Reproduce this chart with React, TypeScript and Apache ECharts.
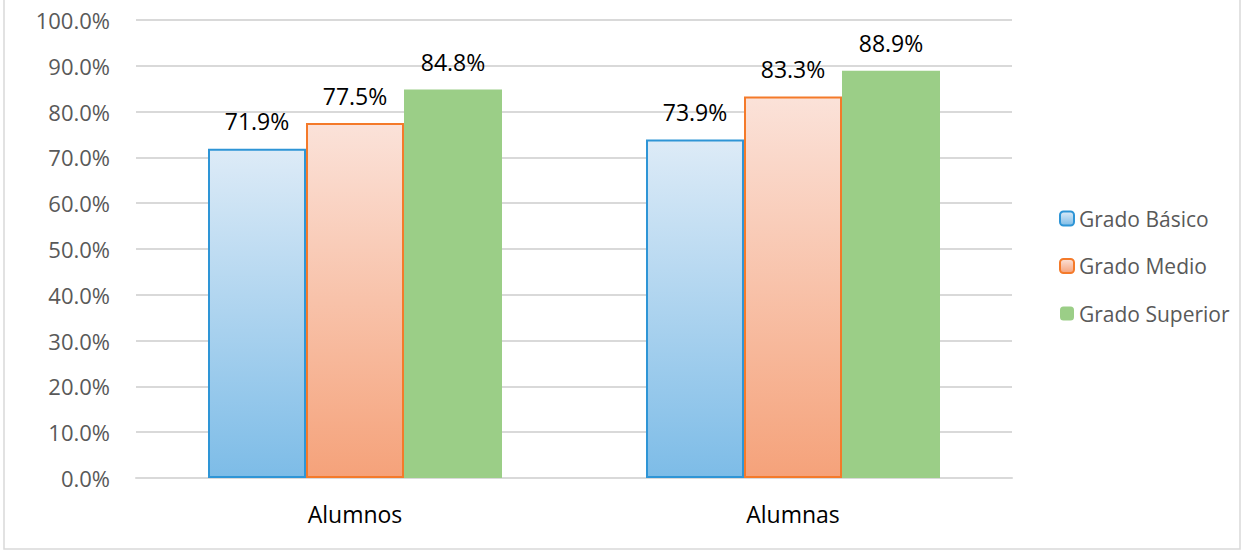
import React, { useEffect, useRef } from "react";
import * as echarts from "echarts";

const categories = ["Alumnos", "Alumnas"];
const seriesNames = ["Grado Básico", "Grado Medio", "Grado Superior"];
const basico = [71.9, 73.9];
const medio = [77.5, 83.3];
const superior = [84.8, 88.9];

const FONT = "'Open Sans', sans-serif";

export default function App() {
  const ref = useRef<HTMLDivElement>(null);
  useEffect(() => {
    document.body.style.margin = "0";
    const chart = echarts.init(ref.current!, null, { renderer: "svg" });
    const label = {
      show: true,
      position: "top",
      distance: 16,
      color: "#000",
      fontSize: 23,
      fontFamily: FONT,
      formatter: (p: any) => p.value.toFixed(1) + "%",
    };
    const grad = (top: string, bottom: string) =>
      new echarts.graphic.LinearGradient(0, 0, 0, 1, [
        { offset: 0, color: top },
        { offset: 1, color: bottom },
      ]);
    chart.setOption({
      animation: false,
      textStyle: { fontFamily: FONT },
      graphic: [
        {
          type: "rect",
          shape: { x: 4, y: -10, width: 1236, height: 559 },
          style: { fill: "none", stroke: "#d9d9d9", lineWidth: 1.5 },
          silent: true,
        },
      ],
      grid: { left: 136, right: 232, top: 20, bottom: 73, containLabel: false },
      legend: {
        orient: "vertical",
        left: 1059,
        top: 208,
        padding: 0,
        itemWidth: 14,
        itemHeight: 14,
        itemGap: 26.5,
        itemTextGap: 6,
        textStyle: { color: "#595959", fontSize: 21, fontFamily: FONT },
        data: seriesNames,
      },
      xAxis: {
        type: "category",
        data: categories,
        axisLine: { lineStyle: { color: "#d9d9d9", width: 2 } },
        axisTick: { show: false },
        axisLabel: { color: "#000", fontSize: 23, margin: 24, fontFamily: FONT },
      },
      yAxis: {
        type: "value",
        min: 0,
        max: 100,
        interval: 10,
        axisLine: { show: false },
        axisTick: { show: false },
        splitLine: { lineStyle: { color: "#d9d9d9", width: 2 } },
        axisLabel: {
          color: "#595959",
          fontSize: 22,
          margin: 26,
          fontFamily: FONT,
          formatter: (v: number) => v.toFixed(1) + "%",
        },
      },
      series: [
        {
          name: seriesNames[0],
          type: "bar",
          data: basico,
          barWidth: 98,
          barGap: "0%",
          itemStyle: { color: grad("#ddebf7", "#7dbce7"), borderColor: "#2e95d6", borderWidth: 2 },
          label,
        },
        {
          name: seriesNames[1],
          type: "bar",
          data: medio,
          barWidth: 98,
          barGap: "0%",
          itemStyle: { color: grad("#fbe2d9", "#f5a27a"), borderColor: "#f47a2a", borderWidth: 2 },
          label,
        },
        {
          name: seriesNames[2],
          type: "bar",
          data: superior,
          barWidth: 98,
          barGap: "0%",
          itemStyle: { color: "#9bce87" },
          label,
        },
      ],
    });
    return () => chart.dispose();
  }, []);
  return <div ref={ref} style={{ width: 1244, height: 551 }} />;
}
